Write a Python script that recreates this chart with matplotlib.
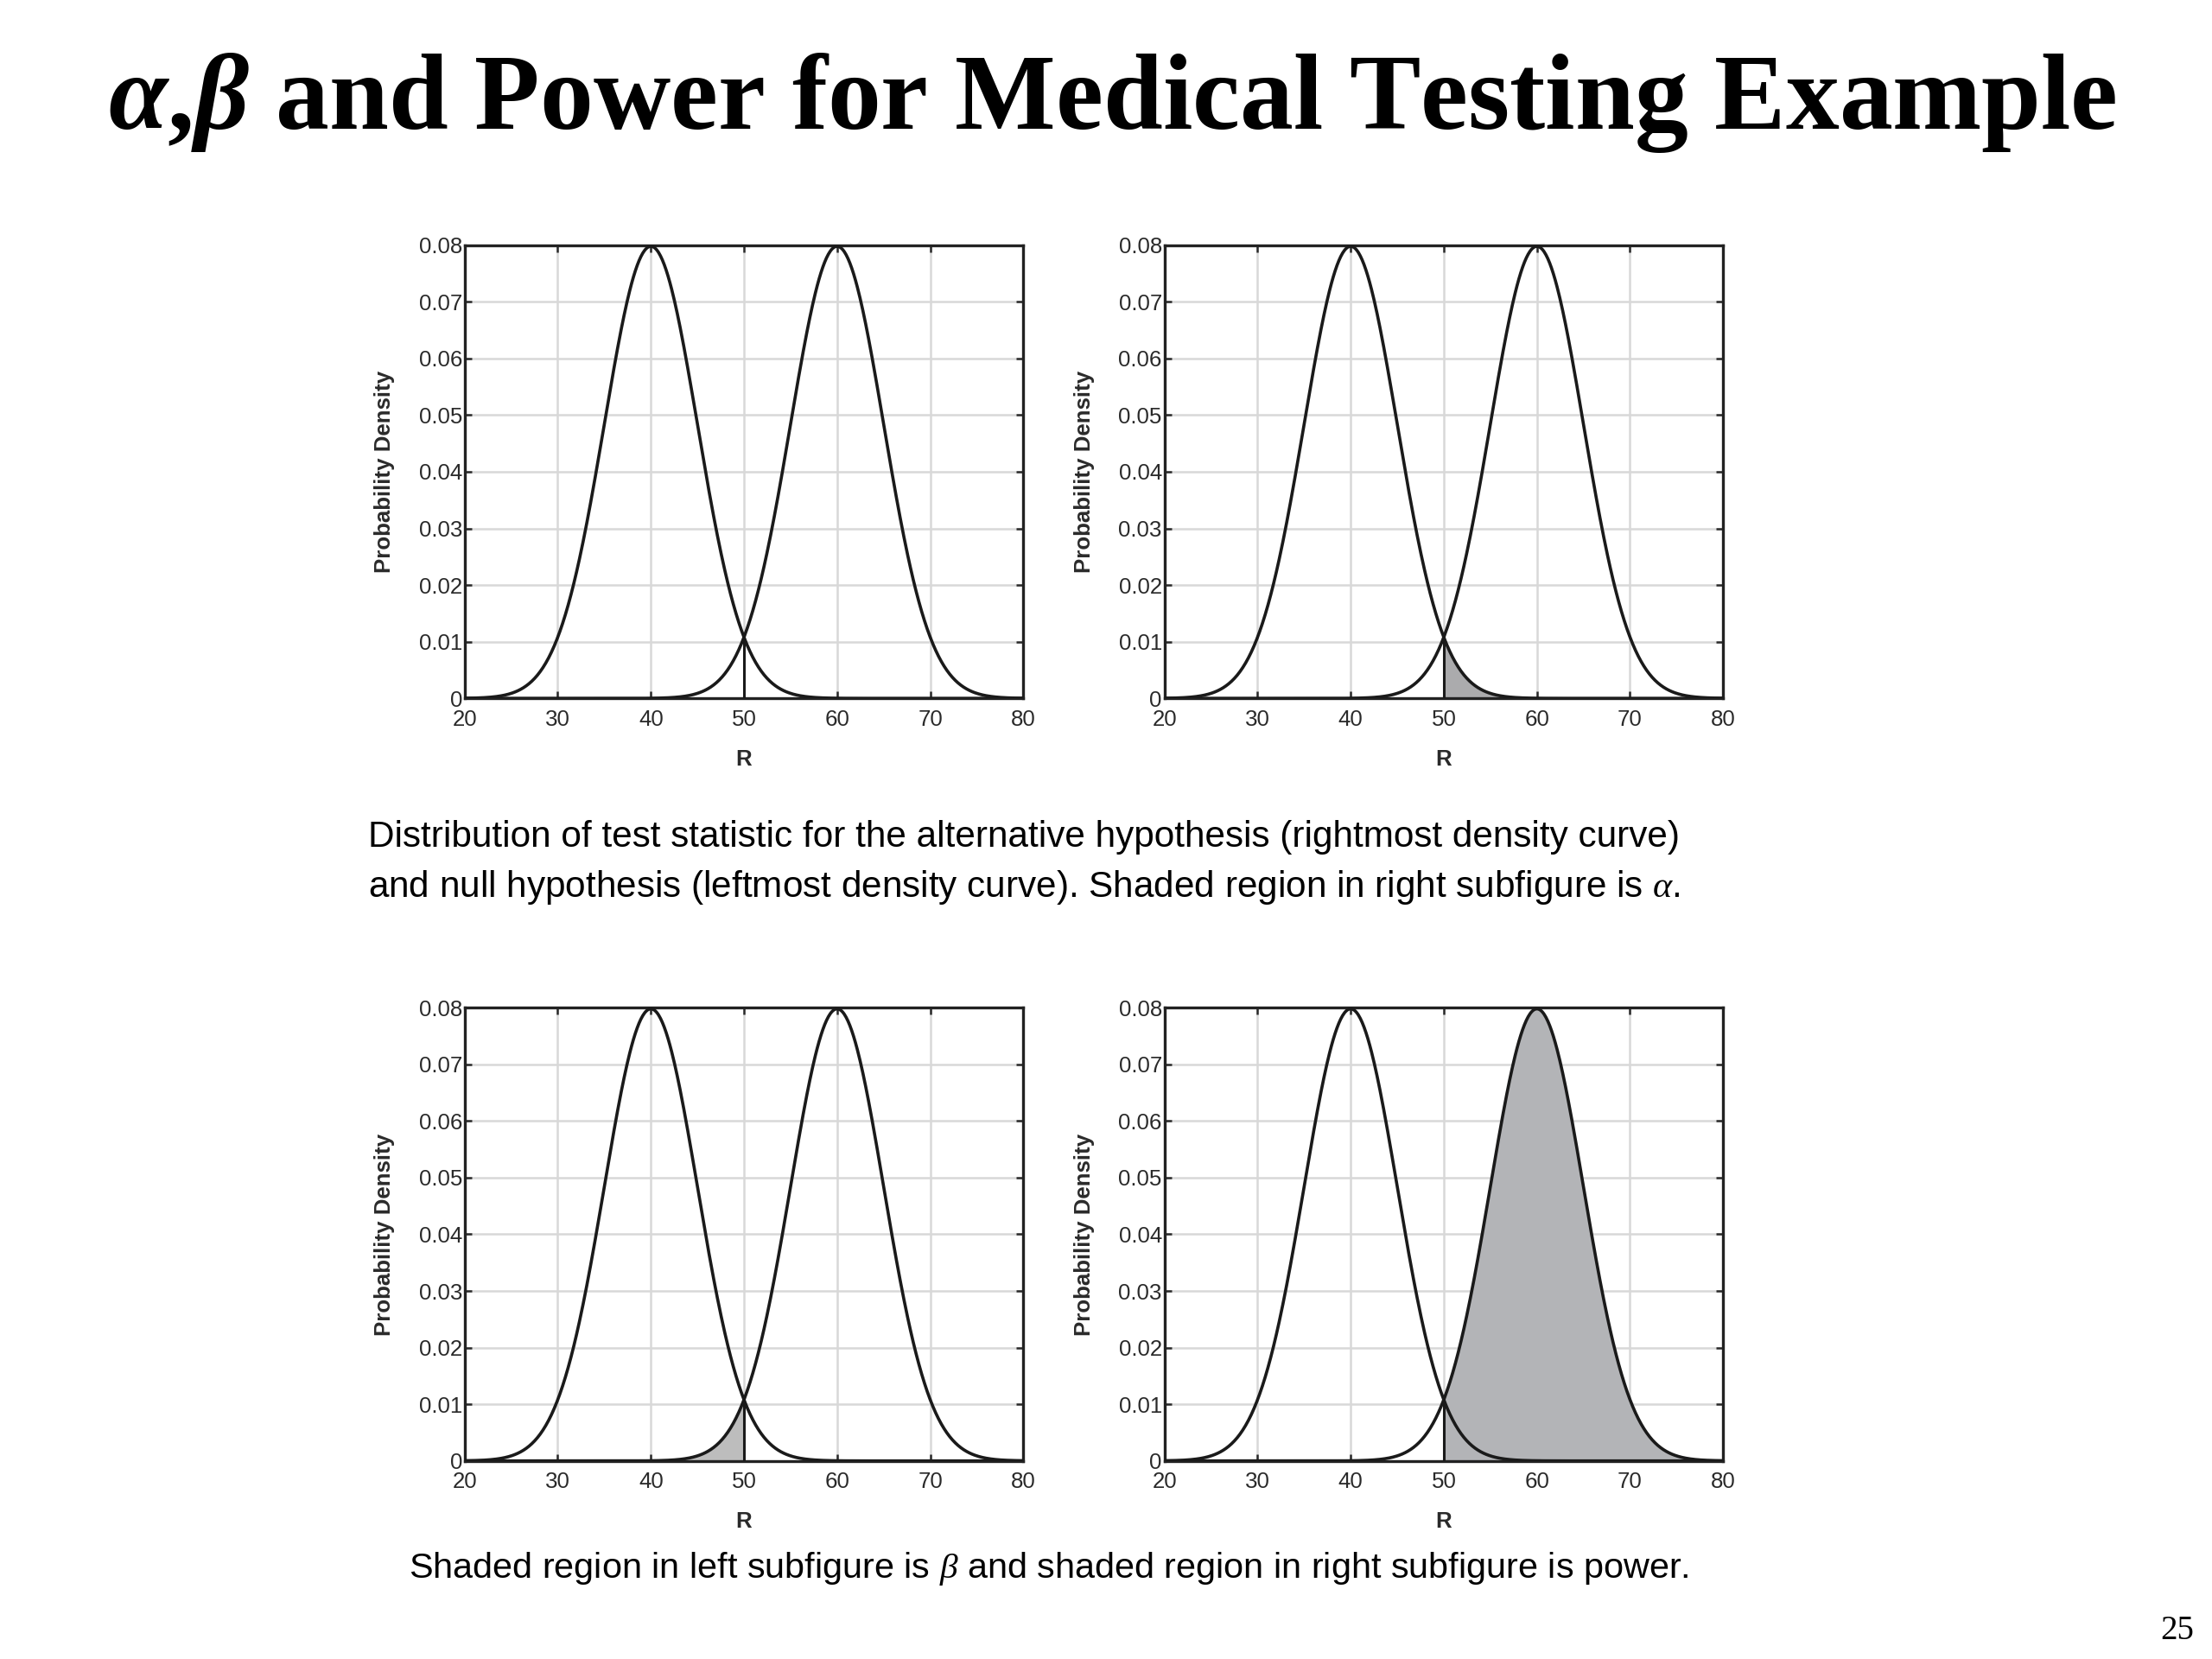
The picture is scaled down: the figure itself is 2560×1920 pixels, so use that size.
import numpy as np
import matplotlib
matplotlib.use("Agg")
import matplotlib.pyplot as plt

plt.rcParams["font.family"] = ["Liberation Sans", "DejaVu Sans"]
plt.rcParams["mathtext.fontset"] = "custom"
plt.rcParams["mathtext.it"] = "Liberation Serif:italic"
plt.rcParams["mathtext.bf"] = "Liberation Serif:bold:italic"
plt.rcParams["mathtext.rm"] = "Liberation Serif"

# distributions (peak 0.08 -> sd ~5)
null_mean = 40.0
alt_mean = 60.0
sd = 5.0
threshold = 50.0
x_ticks = [20, 30, 40, 50, 60, 70, 80]
y_ticks = [0, 0.01, 0.02, 0.03, 0.04, 0.05, 0.06, 0.07, 0.08]
y_ticklabels = ["0", "0.01", "0.02", "0.03", "0.04", "0.05", "0.06", "0.07", "0.08"]

title = r"$\mathbf{\alpha}$,$\mathbf{\beta}$ and Power for Medical Testing Example"
caption_top = ["Distribution of test statistic for the alternative hypothesis (rightmost density curve)",
               r"and null hypothesis (leftmost density curve). Shaded region in right subfigure is $\alpha$."]
caption_bottom = r"Shaded region in left subfigure is $\beta$ and shaded region in right subfigure is power."


def pdf(x, mu, s):
    return np.exp(-0.5 * ((x - mu) / s) ** 2) / (s * np.sqrt(2 * np.pi))


r = np.linspace(x_ticks[0], x_ticks[-1], 600)
f_null = pdf(r, null_mean, sd)
f_alt = pdf(r, alt_mean, sd)
cross = pdf(threshold, null_mean, sd)

fig = plt.figure(figsize=(12.8, 9.6), dpi=200)

W, H = 1552.0, 1164.0
boxes = {
    "tl": (326, 172, 718, 490),
    "tr": (817, 172, 1209, 490),
    "bl": (326, 707, 718, 1025),
    "br": (817, 707, 1209, 1025),
}


def make_ax(key):
    x0, y0, x1, y1 = boxes[key]
    ax = fig.add_axes([x0 / W, 1 - y1 / H, (x1 - x0) / W, (y1 - y0) / H])
    ax.set_xlim(x_ticks[0], x_ticks[-1])
    ax.set_ylim(0, 0.08)
    ax.set_xticks(x_ticks)
    ax.set_yticks(y_ticks)
    ax.set_yticklabels(y_ticklabels)
    ax.grid(True, color="#d8d8d8", linewidth=0.9)
    ax.set_axisbelow(True)
    ax.tick_params(direction="in", top=True, right=True, length=3, width=0.9,
                   labelsize=9.3, colors="#2a2a2a")
    ax.tick_params(axis="x", pad=4.5)
    ax.tick_params(axis="y", pad=1)
    for sp in ax.spines.values():
        sp.set_linewidth(1.2)
        sp.set_color("#222222")
    ax.set_xlabel("R", fontsize=9.3, fontweight="bold", labelpad=8, color="#2a2a2a")
    ax.set_ylabel("Probability Density", fontsize=9.3, fontweight="bold",
                  labelpad=10, color="#2a2a2a")
    return ax


axes = {k: make_ax(k) for k in boxes}

# shaded regions
ax = axes["tr"]
m = r >= threshold
ax.fill_between(r[m], 0, f_null[m], color="#ababad", linewidth=0, zorder=2)

ax = axes["bl"]
m = r <= threshold
ax.fill_between(r[m], 0, f_alt[m], color="#bdbdbd", linewidth=0, zorder=2)

ax = axes["br"]
m = r >= threshold
ax.fill_between(r[m], 0, f_alt[m], color="#b3b4b7", linewidth=0, zorder=2)

for ax in axes.values():
    ax.plot(r, f_null, color="#1a1a1a", linewidth=1.3, zorder=3)
    ax.plot(r, f_alt, color="#1a1a1a", linewidth=1.3, zorder=3)
    ax.plot([threshold, threshold], [0, cross], color="#1a1a1a", linewidth=1.1, zorder=3)

fig.text(0.503, 0.938, title, ha="center", va="center", fontsize=44.5,
         fontweight="bold", family="Liberation Serif")

cap_font = ["Liberation Sans", "DejaVu Sans"]
fig.text(258 / W, 1 - 594 / H, caption_top[0], ha="left", va="baseline",
         fontsize=15.2, family=cap_font)
fig.text(258 / W, 1 - 629 / H, caption_top[1], ha="left", va="baseline",
         fontsize=15.2, family=cap_font)
fig.text(287 / W, 1 - 1107 / H, caption_bottom, ha="left", va="baseline",
         fontsize=14.9, family=cap_font)

fig.text(0.992, 1 - 1150 / H, "25", ha="right", va="baseline", fontsize=14,
         family="Liberation Serif")

fig.savefig("out.png", dpi=200, facecolor="white")
